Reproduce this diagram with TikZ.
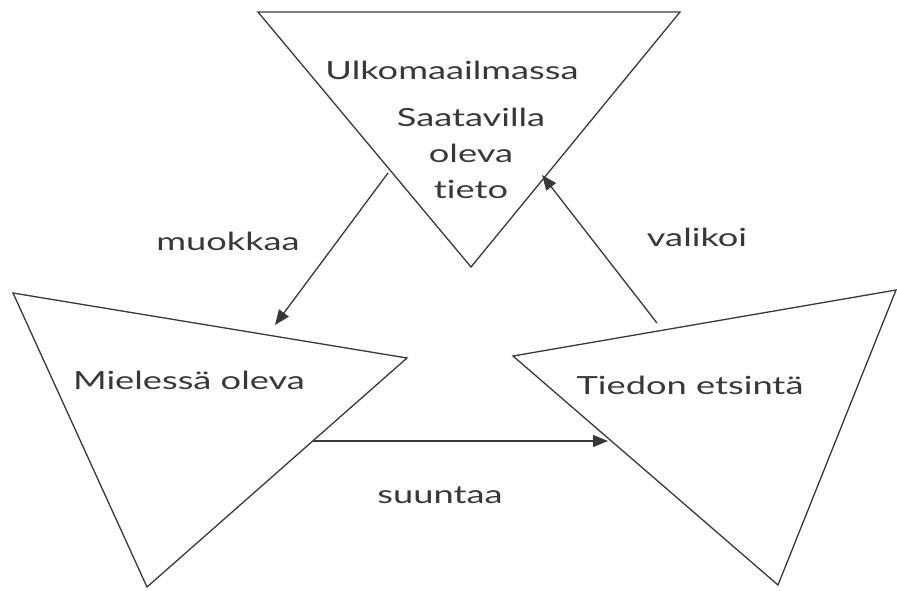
\documentclass[tikz,border=0pt]{standalone}
\usepackage{fontspec}
\setmainfont[FakeStretch=1.45,Ligatures={NoCommon}]{Lato}
\usepackage{tikz}
\usetikzlibrary{arrows.meta}
\definecolor{ink}{HTML}{383838}
\tikzset{
  kolmio/.style={draw=ink,line width=1.3pt,line join=miter},
  nuoli/.style={draw=ink,line width=1.3pt,-{Triangle[length=15pt,width=12pt]}},
  teksti/.style={text=ink,font=\fontsize{25}{36}\selectfont,inner sep=0pt}
}
\begin{document}
\begin{tikzpicture}[x=1pt,y=-1pt]
\useasboundingbox (0,0) rectangle (897,590);
\draw[kolmio] (258,12) -- (680,12) -- (471,267) -- cycle;
\draw[kolmio] (13,293) -- (407,358) -- (147,587) -- cycle;
\draw[kolmio] (513,356) -- (896,290) -- (778,585) -- cycle;
\node[teksti] (ulko) at (452,70) {Ulkomaailmassa};
\node[teksti,align=center] (tieto) at (471,153) {Saatavilla\\oleva\\tieto};
\node[teksti] (mieli) at (189,380) {Mielessä oleva};
\node[teksti] (etsinta) at (690,385) {Tiedon etsintä};
\node[teksti] (muokkaa) at (228,241) {muokkaa};
\node[teksti] (valikoi) at (697,237) {valikoi};
\node[teksti] (suuntaa) at (440,495) {suuntaa};
\coordinate (m1) at (388,173);
\coordinate (m2) at (275,325);
\coordinate (v1) at (657,323);
\coordinate (v2) at (542,175);
\coordinate (s1) at (313,441);
\coordinate (s2) at (608,441);
\draw[nuoli] (m1) -- (m2);
\draw[nuoli] (v1) -- (v2);
\draw[nuoli] (s1) -- (s2);
\end{tikzpicture}
\end{document}
